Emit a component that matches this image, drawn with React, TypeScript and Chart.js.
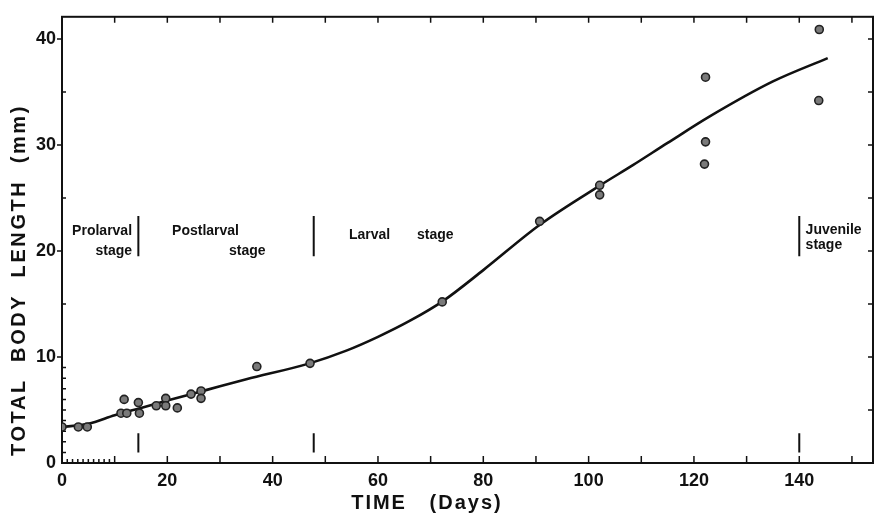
import { useEffect, useRef } from 'react';
import { Chart, registerables } from 'chart.js';

Chart.register(...registerables);

// Observed fish lengths (days, mm)
const obsDays = [0, 3.1, 4.8, 11.2, 12.3, 11.8, 14.5, 14.7, 17.9, 19.7, 19.7, 21.9, 24.5, 26.4, 26.4, 37.0, 47.1, 72.2, 90.7, 102.1, 102.1, 122.2, 122.2, 122.0, 143.8, 143.7];
const obsLength = [3.4, 3.4, 3.4, 4.7, 4.7, 6.0, 5.7, 4.7, 5.4, 6.1, 5.4, 5.2, 6.5, 6.8, 6.1, 9.1, 9.4, 15.2, 22.8, 26.2, 25.3, 36.4, 30.3, 28.2, 40.9, 34.2];

// Fitted growth curve
const curveDays = [0, 5, 10, 15, 20, 27.5, 35, 47, 54, 60, 66, 72.4, 80, 90.8, 102.2, 108.4, 115, 123, 135, 145.4];
const curveLength = [3.4, 3.7, 4.5, 5.2, 5.9, 6.9, 7.9, 9.4, 10.6, 11.9, 13.4, 15.3, 18.2, 22.5, 26.2, 28.1, 30.2, 32.7, 36.0, 38.2];

// Stage boundaries (days)
const stageBoundaries = [14.5, 47.8, 140];
const stageMarkTop = [19.5, 23.3];
const stageMarkBottom = [1.0, 2.8];

// Stage labels
const stageText = ['Prolarval', 'stage', 'Postlarval', 'stage', 'Larval', 'stage', 'Juvenile', 'stage'];
const stageTextDay = [13.3, 13.3, 20.9, 31.7, 54.5, 67.4, 141.2, 141.2];
const stageTextLen = [21.9, 20.0, 21.9, 20.0, 21.5, 21.5, 22.0, 20.6];
const stageTextAlign = ['right', 'right', 'left', 'left', 'left', 'left', 'left', 'left'];

const xTitle = 'TIME   (Days)';
const yTitle = 'TOTAL  BODY  LENGTH  (mm)';

const X_MAX = 154;
const Y_MAX = 42.1;

const FONT = '"Liberation Sans", Arial, sans-serif';

const decorPlugin = {
  id: 'decor',
  beforeDatasetsDraw(chart: any) {
    const { ctx, chartArea: a, scales } = chart;
    const xs = scales.x;
    const ys = scales.y;
    ctx.save();
    ctx.strokeStyle = '#111';
    ctx.fillStyle = '#111';
    // frame
    ctx.lineWidth = 2;
    ctx.strokeRect(a.left, a.top, a.right - a.left, a.bottom - a.top);
    ctx.lineWidth = 1.5;
    ctx.beginPath();
    // bottom ticks (inward)
    for (let d = 10; d <= 150; d += 10) {
      const px = xs.getPixelForValue(d);
      ctx.moveTo(px, a.bottom);
      ctx.lineTo(px, a.bottom - 7);
    }
    for (let d = 1; d < 10; d++) {
      const px = xs.getPixelForValue(d);
      ctx.moveTo(px, a.bottom);
      ctx.lineTo(px, a.bottom - 4);
    }
    // top ticks (inward)
    for (let d = 10; d <= 150; d += 10) {
      const px = xs.getPixelForValue(d);
      ctx.moveTo(px, a.top);
      ctx.lineTo(px, a.top + 6);
    }
    // left ticks
    for (let v = 10; v <= 40; v += 10) {
      const py = ys.getPixelForValue(v);
      ctx.moveTo(a.left - 5, py);
      ctx.lineTo(a.left, py);
    }
    for (let v = 5; v <= 40; v += 10) {
      const py = ys.getPixelForValue(v);
      ctx.moveTo(a.left, py);
      ctx.lineTo(a.left + 4, py);
    }
    for (let v = 1; v < 10; v++) {
      const py = ys.getPixelForValue(v);
      ctx.moveTo(a.left, py);
      ctx.lineTo(a.left + 4, py);
    }
    // right ticks (inward)
    for (let v = 5; v <= 40; v += 5) {
      const py = ys.getPixelForValue(v);
      ctx.moveTo(a.right, py);
      ctx.lineTo(a.right - 5, py);
    }
    ctx.stroke();

    // stage boundary marks
    ctx.lineWidth = 2;
    ctx.beginPath();
    stageBoundaries.forEach((d) => {
      const px = xs.getPixelForValue(d);
      ctx.moveTo(px, ys.getPixelForValue(stageMarkTop[0]));
      ctx.lineTo(px, ys.getPixelForValue(stageMarkTop[1]));
      ctx.moveTo(px, ys.getPixelForValue(stageMarkBottom[0]));
      ctx.lineTo(px, ys.getPixelForValue(stageMarkBottom[1]));
    });
    ctx.stroke();

    // stage labels
    ctx.font = `bold 14px ${FONT}`;
    ctx.textBaseline = 'middle';
    stageText.forEach((t, i) => {
      ctx.textAlign = stageTextAlign[i] as CanvasTextAlign;
      ctx.fillText(t, xs.getPixelForValue(stageTextDay[i]), ys.getPixelForValue(stageTextLen[i]));
    });
    ctx.restore();
  },
  afterDraw(chart: any) {
    const { ctx, chartArea: a } = chart;
    ctx.save();
    ctx.fillStyle = '#111';
    ctx.font = `bold 20px ${FONT}`;
    ctx.textAlign = 'center';
    ctx.textBaseline = 'middle';
    (ctx as any).letterSpacing = '2px';
    ctx.fillText(xTitle, a.left + (a.right - a.left) * 0.45, 503);
    ctx.translate(19, 280);
    ctx.rotate(-Math.PI / 2);
    (ctx as any).letterSpacing = '2.6px';
    ctx.fillText(yTitle, 0, 0);
    ctx.restore();
  },
};

export default function App() {
  const ref = useRef<HTMLCanvasElement>(null);
  useEffect(() => {
    if (!ref.current) return;
    const chart = new Chart(ref.current, {
      type: 'scatter',
      data: {
        datasets: [
          {
            label: 'Observed',
            data: obsDays.map((d, i) => ({ x: d, y: obsLength[i] })),
            pointRadius: 4,
            pointBorderWidth: 1.6,
            pointBorderColor: '#222',
            pointBackgroundColor: '#7a7a7a',
            order: 0,
          },
          {
            label: 'Growth curve',
            data: curveDays.map((d, i) => ({ x: d, y: curveLength[i] })),
            showLine: true,
            borderColor: '#111',
            borderWidth: 2.6,
            pointRadius: 0,
            cubicInterpolationMode: 'monotone',
            order: 1,
          } as any,
        ],
      },
      options: {
        animation: false,
        responsive: false,
        layout: { padding: { left: 0, right: 6, top: 10, bottom: 0 } },
        plugins: { legend: { display: false }, tooltip: { enabled: false } },
        scales: {
          x: {
            type: 'linear',
            min: 0,
            max: X_MAX,
            border: { display: false },
            grid: { display: false, drawTicks: false },
            ticks: {
              stepSize: 20,
              includeBounds: false,
              padding: 7,
              color: '#111',
              font: { family: FONT, size: 18, weight: 'bold' },
              maxRotation: 0,
            },
            afterFit: (s: any) => {
              s.height = 58;
            },
          },
          y: {
            type: 'linear',
            min: 0,
            max: Y_MAX,
            border: { display: false },
            grid: { display: false, drawTicks: false },
            ticks: {
              stepSize: 10,
              includeBounds: false,
              padding: 6,
              color: '#111',
              font: { family: FONT, size: 18, weight: 'bold' },
            },
            afterFit: (s: any) => {
              s.width = 62;
            },
          },
        },
      },
      plugins: [decorPlugin],
    });
    return () => chart.destroy();
  }, []);
  return (
    <div style={{ position: 'absolute', left: 0, top: 0, width: 879, height: 521, background: '#fff' }}>
      <canvas ref={ref} width={879} height={521} />
    </div>
  );
}
